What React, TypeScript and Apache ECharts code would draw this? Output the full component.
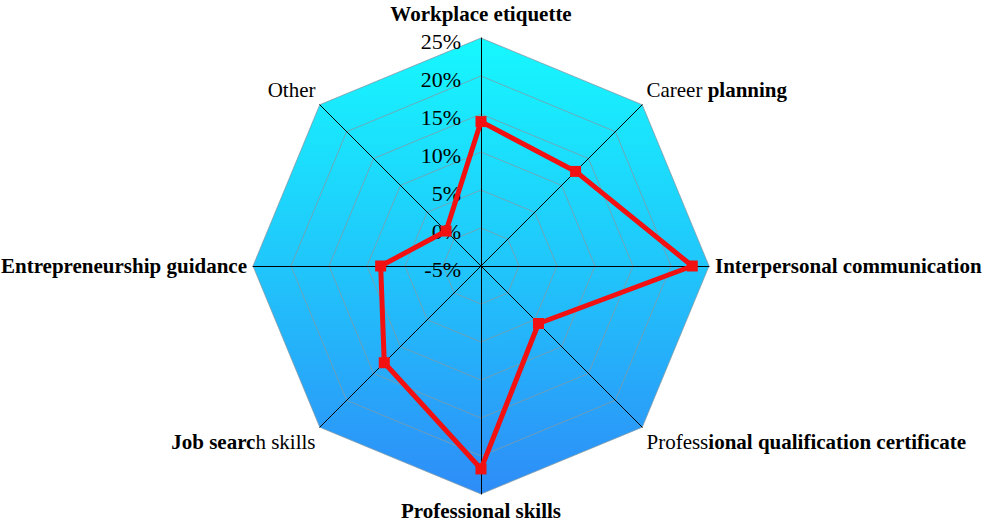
import React, { useEffect, useRef } from "react";
import * as echarts from "echarts";

// categories listed clockwise from the top
const categories = [
  "Workplace etiquette",
  "Career planning",
  "Interpersonal communication",
  "Professional qualification certificate",
  "Professional skills",
  "Job search skills",
  "Entrepreneurship guidance",
  "Other",
];
const values = [14, 12.6, 22.8, 5.7, 21.7, 13, 8.2, 1.5];
const axisMin = -5;
const axisMax = 25;
const tickInterval = 5;

// label rendering: segments [text, bold]
const labelParts: Record<string, [string, boolean][]> = {
  "Workplace etiquette": [["Workplace etiquette", true]],
  "Career planning": [["Career ", false], ["planning", true]],
  "Interpersonal communication": [["Interpersonal communication", true]],
  "Professional qualification certificate": [["Profess", false], ["ional qualification certificate", true]],
  "Professional skills": [["Professional skills", true]],
  "Job search skills": [["Job searc", true], ["h skills", false]],
  "Entrepreneurship guidance": [["Entrepreneurship guidance", true]],
  "Other": [["Other", false]],
};
// vertical nudge style for each label: t = top, u = upper diagonal, d = lower diagonal, s = plain
const labelNudge: Record<string, string> = {
  "Workplace etiquette": "t",
  "Career planning": "u",
  "Other": "u",
  "Professional qualification certificate": "d",
  "Job search skills": "d",
};

export default function App() {
  const ref = useRef<HTMLDivElement>(null);
  useEffect(() => {
    if (!ref.current) return;
    const chart = echarts.init(ref.current, undefined, { renderer: "svg" });
    const font = "'Liberation Serif', 'Times New Roman', serif";
    // ECharts radar runs counter-clockwise: reorder to draw clockwise
    const order = [0, ...categories.map((_, i) => i).slice(1).reverse()];
    const cats = order.map((i) => categories[i]);
    const vals = order.map((i) => values[i]);
    const pads: Record<string, number[]> = {
      t: [0, 0, 8, 0],
      u: [0, 0, 22, 0],
      d: [22, 0, 0, 0],
      s: [0, 0, 0, 0],
    };
    const rich: Record<string, any> = {};
    for (const k of Object.keys(pads)) {
      rich["b" + k] = { fontFamily: font, fontSize: 21, fontWeight: "bold", color: "#000", padding: pads[k] };
      rich["n" + k] = { fontFamily: font, fontSize: 21, fontWeight: "normal", color: "#000", padding: pads[k] };
    }
    chart.setOption({
      animation: false,
      backgroundColor: "#ffffff",
      radar: {
        center: [481, 266],
        radius: 228,
        startAngle: 90,
        shape: "polygon",
        splitNumber: (axisMax - axisMin) / tickInterval,
        indicator: cats.map((c, i) => ({
          name: c,
          min: axisMin,
          max: axisMax,
          axisLabel: { show: i === 0 },
        })),
        axisName: {
          color: "#000",
          fontFamily: font,
          fontSize: 21,
          formatter: (name: string) => {
            const nudge = labelNudge[name] || "s";
            return (labelParts[name] || [[name, false]])
              .map(([t, b]) => `{${b ? "b" : "n"}${nudge}|${t}}`)
              .join("");
          },
          rich,
        },
        nameGap: 6,
        axisLine: { show: true, lineStyle: { color: "#000", width: 1 } },
        axisTick: { show: false },
        axisLabel: {
          show: false,
          color: "#000",
          fontFamily: font,
          fontSize: 22,
          formatter: (v: number) => `{v|${v}%}`,
          margin: 20,
          rich: {
            v: { fontFamily: font, fontSize: 22, color: "#000", padding: [7, 0, 0, 0] },
          },
        },
        splitLine: { show: true, lineStyle: { color: "#7f9aa8", width: 0.8 } },
        splitArea: {
          show: true,
          areaStyle: {
            color: [
              {
                type: "linear",
                x: 0,
                y: 38,
                x2: 0,
                y2: 494,
                global: true,
                colorStops: [
                  { offset: 0, color: "#16f8fe" },
                  { offset: 0.5, color: "#20c6fb" },
                  { offset: 1, color: "#2e8cf8" },
                ],
              },
            ],
          },
        },
      },
      series: [
        {
          type: "radar",
          data: [
            {
              value: vals,
              name: "Share",
              lineStyle: { color: "#f21010", width: 5 },
              itemStyle: { color: "#f21010" },
              symbol: "rect",
              symbolSize: 11,
            },
          ],
        },
      ],
    });
    return () => chart.dispose();
  }, []);
  return (
    <div
      ref={ref}
      style={{ position: "fixed", left: 0, top: 0, width: 983, height: 525 }}
    />
  );
}
